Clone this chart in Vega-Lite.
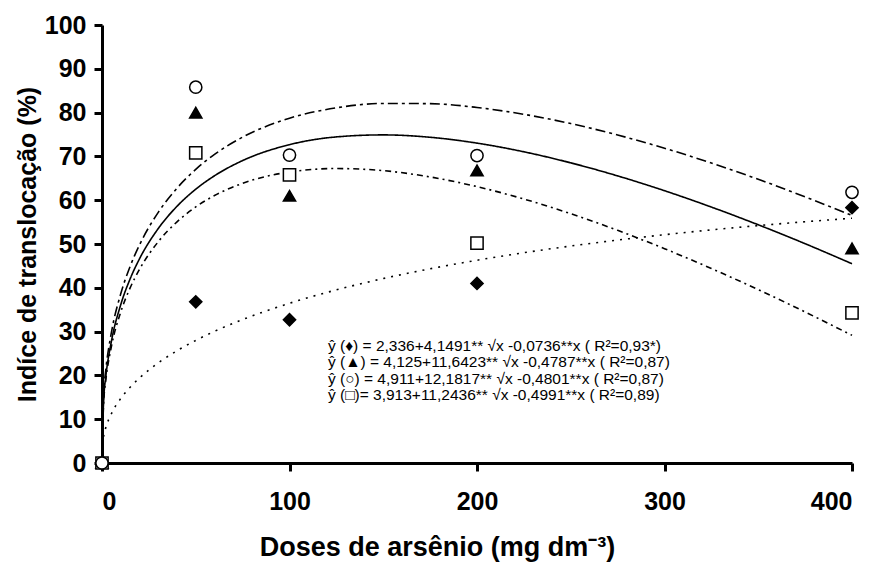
{
  "$schema": "https://vega.github.io/schema/vega-lite/v6.json",
  "width": 750,
  "height": 438,
  "autosize": "none",
  "padding": {"left": 102, "top": 25, "right": 25, "bottom": 101},
  "background": "white",
  "config": {
    "view": {"stroke": null},
    "font": "Liberation Sans",
    "axis": {
      "grid": false,
      "domainColor": "black",
      "domainWidth": 3,
      "tickColor": "black",
      "tickWidth": 3,
      "tickSize": 8,
      "labelFont": "Liberation Sans",
      "labelFontWeight": "bold",
      "labelFontSize": 25,
      "labelColor": "black",
      "titleFont": "Liberation Sans",
      "titleFontWeight": "bold",
      "titleFontSize": 25,
      "titleColor": "black"
    }
  },
  "datasets": {
    "points": [
      {"dose": 0, "value": 0, "series": "♦"},
      {"dose": 50, "value": 36.8, "series": "♦"},
      {"dose": 100, "value": 32.7, "series": "♦"},
      {"dose": 200, "value": 41.0, "series": "♦"},
      {"dose": 400, "value": 58.3, "series": "♦"},
      {"dose": 0, "value": 0, "series": "▲"},
      {"dose": 50, "value": 80.0, "series": "▲"},
      {"dose": 100, "value": 61.0, "series": "▲"},
      {"dose": 200, "value": 66.8, "series": "▲"},
      {"dose": 400, "value": 49.0, "series": "▲"},
      {"dose": 0, "value": 0, "series": "□"},
      {"dose": 50, "value": 70.8, "series": "□"},
      {"dose": 100, "value": 65.8, "series": "□"},
      {"dose": 200, "value": 50.2, "series": "□"},
      {"dose": 400, "value": 34.3, "series": "□"},
      {"dose": 0, "value": 0, "series": "○"},
      {"dose": 50, "value": 85.8, "series": "○"},
      {"dose": 100, "value": 70.3, "series": "○"},
      {"dose": 200, "value": 70.2, "series": "○"},
      {"dose": 400, "value": 61.8, "series": "○"}
    ],
    "curves": [
      {"dose": 0, "value": 2.34, "series": "♦"},
      {"dose": 1, "value": 6.41, "series": "♦"},
      {"dose": 2, "value": 8.06, "series": "♦"},
      {"dose": 5, "value": 11.25, "series": "♦"},
      {"dose": 10, "value": 14.72, "series": "♦"},
      {"dose": 15, "value": 17.3, "series": "♦"},
      {"dose": 20, "value": 19.42, "series": "♦"},
      {"dose": 30, "value": 22.85, "series": "♦"},
      {"dose": 40, "value": 25.63, "series": "♦"},
      {"dose": 50, "value": 27.99, "series": "♦"},
      {"dose": 60, "value": 30.06, "series": "♦"},
      {"dose": 75, "value": 32.75, "series": "♦"},
      {"dose": 100, "value": 36.47, "series": "♦"},
      {"dose": 125, "value": 39.52, "series": "♦"},
      {"dose": 150, "value": 42.11, "series": "♦"},
      {"dose": 175, "value": 44.34, "series": "♦"},
      {"dose": 200, "value": 46.29, "series": "♦"},
      {"dose": 225, "value": 48.01, "series": "♦"},
      {"dose": 250, "value": 49.54, "series": "♦"},
      {"dose": 275, "value": 50.9, "series": "♦"},
      {"dose": 300, "value": 52.12, "series": "♦"},
      {"dose": 325, "value": 53.22, "series": "♦"},
      {"dose": 350, "value": 54.2, "series": "♦"},
      {"dose": 375, "value": 55.08, "series": "♦"},
      {"dose": 400, "value": 55.88, "series": "♦"},
      {"dose": 0, "value": 4.13, "series": "▲"},
      {"dose": 1, "value": 15.29, "series": "▲"},
      {"dose": 2, "value": 19.63, "series": "▲"},
      {"dose": 5, "value": 27.76, "series": "▲"},
      {"dose": 10, "value": 36.15, "series": "▲"},
      {"dose": 15, "value": 42.04, "series": "▲"},
      {"dose": 20, "value": 46.62, "series": "▲"},
      {"dose": 30, "value": 53.53, "series": "▲"},
      {"dose": 40, "value": 58.61, "series": "▲"},
      {"dose": 50, "value": 62.51, "series": "▲"},
      {"dose": 60, "value": 65.58, "series": "▲"},
      {"dose": 75, "value": 69.05, "series": "▲"},
      {"dose": 100, "value": 72.68, "series": "▲"},
      {"dose": 125, "value": 74.45, "series": "▲"},
      {"dose": 150, "value": 74.91, "series": "▲"},
      {"dose": 175, "value": 74.37, "series": "▲"},
      {"dose": 200, "value": 73.03, "series": "▲"},
      {"dose": 225, "value": 71.05, "series": "▲"},
      {"dose": 250, "value": 68.53, "series": "▲"},
      {"dose": 275, "value": 65.55, "series": "▲"},
      {"dose": 300, "value": 62.17, "series": "▲"},
      {"dose": 325, "value": 58.43, "series": "▲"},
      {"dose": 350, "value": 54.39, "series": "▲"},
      {"dose": 375, "value": 50.07, "series": "▲"},
      {"dose": 400, "value": 45.49, "series": "▲"},
      {"dose": 0, "value": 4.91, "series": "○"},
      {"dose": 1, "value": 16.61, "series": "○"},
      {"dose": 2, "value": 21.18, "series": "○"},
      {"dose": 5, "value": 29.75, "series": "○"},
      {"dose": 10, "value": 38.63, "series": "○"},
      {"dose": 15, "value": 44.89, "series": "○"},
      {"dose": 20, "value": 49.79, "series": "○"},
      {"dose": 30, "value": 57.23, "series": "○"},
      {"dose": 40, "value": 62.75, "series": "○"},
      {"dose": 50, "value": 67.04, "series": "○"},
      {"dose": 60, "value": 70.46, "series": "○"},
      {"dose": 75, "value": 74.4, "series": "○"},
      {"dose": 100, "value": 78.72, "series": "○"},
      {"dose": 125, "value": 81.09, "series": "○"},
      {"dose": 150, "value": 82.09, "series": "○"},
      {"dose": 175, "value": 82.04, "series": "○"},
      {"dose": 200, "value": 81.17, "series": "○"},
      {"dose": 225, "value": 79.61, "series": "○"},
      {"dose": 250, "value": 77.5, "series": "○"},
      {"dose": 275, "value": 74.89, "series": "○"},
      {"dose": 300, "value": 71.87, "series": "○"},
      {"dose": 325, "value": 68.49, "series": "○"},
      {"dose": 350, "value": 64.77, "series": "○"},
      {"dose": 375, "value": 60.77, "series": "○"},
      {"dose": 400, "value": 56.51, "series": "○"},
      {"dose": 0, "value": 3.91, "series": "□"},
      {"dose": 1, "value": 14.66, "series": "□"},
      {"dose": 2, "value": 18.82, "series": "□"},
      {"dose": 5, "value": 26.56, "series": "□"},
      {"dose": 10, "value": 34.48, "series": "□"},
      {"dose": 15, "value": 39.97, "series": "□"},
      {"dose": 20, "value": 44.21, "series": "□"},
      {"dose": 30, "value": 50.52, "series": "□"},
      {"dose": 40, "value": 55.06, "series": "□"},
      {"dose": 50, "value": 58.46, "series": "□"},
      {"dose": 60, "value": 61.06, "series": "□"},
      {"dose": 75, "value": 63.85, "series": "□"},
      {"dose": 100, "value": 66.44, "series": "□"},
      {"dose": 125, "value": 67.23, "series": "□"},
      {"dose": 150, "value": 66.75, "series": "□"},
      {"dose": 175, "value": 65.31, "series": "□"},
      {"dose": 200, "value": 63.1, "series": "□"},
      {"dose": 225, "value": 60.27, "series": "□"},
      {"dose": 250, "value": 56.92, "series": "□"},
      {"dose": 275, "value": 53.12, "series": "□"},
      {"dose": 300, "value": 48.93, "series": "□"},
      {"dose": 325, "value": 44.4, "series": "□"},
      {"dose": 350, "value": 39.58, "series": "□"},
      {"dose": 375, "value": 34.48, "series": "□"},
      {"dose": 400, "value": 29.15, "series": "□"}
    ]
  },
  "layer": [
    {
      "data": {"name": "curves"},
      "mark": {"type": "line", "color": "black", "strokeWidth": 1.6, "interpolate": "monotone"},
      "encoding": {
        "x": {
          "field": "dose",
          "type": "quantitative",
          "scale": {"domain": [0, 400], "nice": false, "zero": false},
          "axis": {
            "values": [0, 100, 200, 300, 400],
            "labelPadding": 18,
            "title": "Doses de arsênio (mg dm⁻³)",
            "titleFontSize": 27,
            "titlePadding": 20,
            "titleX": 335
          }
        },
        "y": {
          "field": "value",
          "type": "quantitative",
          "scale": {"domain": [0, 100], "nice": false},
          "axis": {
            "values": [0, 10, 20, 30, 40, 50, 60, 70, 80, 90, 100],
            "labelPadding": 8,
            "title": "Indíce de translocação (%)",
            "titlePadding": 4
          }
        },
        "detail": {"field": "series"},
        "strokeDash": {
          "field": "series",
          "type": "nominal",
          "scale": {
            "domain": ["♦", "▲", "○", "□"],
            "range": [[2, 6], [1, 0], [10, 4, 3, 4], [6, 4, 2, 4]]
          },
          "legend": null
        }
      }
    },
    {
      "data": {"name": "points"},
      "mark": {"type": "point", "stroke": "black", "strokeWidth": 1.5, "opacity": 1},
      "encoding": {
        "x": {"field": "dose", "type": "quantitative"},
        "y": {"field": "value", "type": "quantitative"},
        "shape": {
          "field": "series",
          "type": "nominal",
          "scale": {
            "domain": ["♦", "▲", "○", "□"],
            "range": ["diamond", "triangle-up", "circle", "square"]
          },
          "legend": null
        },
        "fill": {
          "field": "series",
          "type": "nominal",
          "scale": {
            "domain": ["♦", "▲", "○", "□"],
            "range": ["black", "black", "white", "white"]
          },
          "legend": null
        },
        "size": {
          "field": "series",
          "type": "nominal",
          "scale": {
            "domain": ["♦", "▲", "○", "□"],
            "range": [150, 150, 220, 140]
          },
          "legend": null
        }
      }
    },
    {
      "data": {"values": [
        {"eq": "ŷ (♦) = 2,336+4,1491** √x -0,0736**x  ( R²=0,93*)", "row": 1},
        {"eq": "ŷ (▲) = 4,125+11,6423** √x -0,4787**x  ( R²=0,87)", "row": 2},
        {"eq": "ŷ (○) = 4,911+12,1817** √x -0,4801**x ( R²=0,87)", "row": 3},
        {"eq": "ŷ (□)= 3,913+11,2436** √x -0,4991**x  ( R²=0,89)", "row": 4}
      ]},
      "mark": {
        "type": "text",
        "align": "left",
        "baseline": "middle",
        "font": "Liberation Sans",
        "fontSize": 15.5,
        "fill": "black"
      },
      "encoding": {
        "x": {"datum": 120.5, "type": "quantitative"},
        "yOffset": {"field": "row", "type": "ordinal", "scale": {"type": "point", "range": [0, 49.5], "padding": 0}},
        "y": {"datum": 26.8, "type": "quantitative"},
        "text": {"field": "eq", "type": "nominal"}
      }
    }
  ]
}
